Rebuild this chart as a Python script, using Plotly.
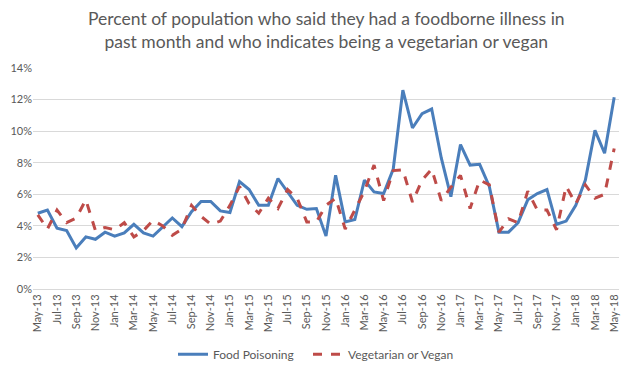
import plotly.graph_objects as go

months = [
    "May-13", "Jun-13", "Jul-13", "Aug-13", "Sep-13", "Oct-13", "Nov-13", "Dec-13",
    "Jan-14", "Feb-14", "Mar-14", "Apr-14", "May-14", "Jun-14", "Jul-14", "Aug-14",
    "Sep-14", "Oct-14", "Nov-14", "Dec-14",
    "Jan-15", "Feb-15", "Mar-15", "Apr-15", "May-15", "Jun-15", "Jul-15", "Aug-15",
    "Sep-15", "Oct-15", "Nov-15", "Dec-15",
    "Jan-16", "Feb-16", "Mar-16", "Apr-16", "May-16", "Jun-16", "Jul-16", "Aug-16",
    "Sep-16", "Oct-16", "Nov-16", "Dec-16",
    "Jan-17", "Feb-17", "Mar-17", "Apr-17", "May-17", "Jun-17", "Jul-17", "Aug-17",
    "Sep-17", "Oct-17", "Nov-17", "Dec-17",
    "Jan-18", "Feb-18", "Mar-18", "Apr-18", "May-18",
]

food_poisoning = [
    4.8, 5.0, 3.85, 3.7, 2.6, 3.3, 3.15, 3.6, 3.35, 3.55,
    4.1, 3.55, 3.35, 3.9, 4.5, 3.95, 4.9, 5.55, 5.55, 4.95,
    4.85, 6.8, 6.3, 5.3, 5.3, 7.0, 6.15, 5.3, 5.05, 5.1,
    3.35, 7.2, 4.25, 4.4, 6.9, 6.15, 6.05, 7.6, 12.6, 10.2,
    11.1, 11.4, 8.3, 5.85, 9.15, 7.85, 7.9, 6.5, 3.6, 3.6,
    4.2, 5.65, 6.05, 6.3, 4.1, 4.3, 5.3, 6.9, 10.05, 8.6,
    12.15,
]

vegetarian = [
    4.7, 3.8, 5.0, 4.2, 4.5, 5.65, 3.7, 3.9, 3.75, 4.2,
    3.3, 3.7, 4.35, 4.0, 3.4, 3.8, 5.3, 4.6, 4.1, 4.3,
    5.3, 6.5, 5.4, 4.8, 5.75, 5.1, 6.3, 5.75, 4.25, 4.25,
    5.3, 5.75, 3.8, 5.0, 6.2, 7.85, 5.6, 7.5, 7.55, 5.5,
    6.9, 7.6, 5.6, 6.45, 7.2, 5.1, 6.9, 6.6, 3.6, 4.45,
    4.2, 6.2, 5.0, 5.0, 3.75, 6.5, 5.4, 6.6, 5.75, 6.0,
    8.9,
]

y_ticks = [0, 2, 4, 6, 8, 10, 12, 14]
y_tick_labels = ["0%", "2%", "4%", "6%", "8%", "10%", "12%", "14%"]

series_names = ["Food Poisoning", "Vegetarian or Vegan"]

title_text = ("Percent of population who said they had a foodborne illness in<br>"
              "past month and who indicates being a vegetarian or vegan")

font_family = "Lato, 'Open Sans', sans-serif"
text_color = "#595959"

fig = go.Figure()
fig.add_trace(go.Scatter(
    x=months, y=food_poisoning, mode="lines", name=series_names[0],
    line=dict(color="#4A7EBB", width=3), legend="legend",
))
fig.add_trace(go.Scatter(
    x=months, y=vegetarian, mode="lines", name=series_names[1],
    line=dict(color="#BE4B48", width=3, dash="dash"), legend="legend2",
))

legend_common = dict(orientation="h", xanchor="left", xref="container",
                     yref="container", y=0.035, yanchor="middle",
                     bgcolor="rgba(0,0,0,0)",
                     font=dict(size=12, color=text_color))

fig.update_layout(
    width=632, height=367,
    margin=dict(l=33, r=13, t=68, b=78),
    paper_bgcolor="white", plot_bgcolor="white",
    font=dict(family=font_family, size=11, color=text_color),
    showlegend=True,
    legend=dict(x=173 / 632, **legend_common),
    legend2=dict(x=308 / 632, **legend_common),
    annotations=[dict(
        text=title_text, xref="paper", yref="paper", x=0.5, y=1.17,
        xanchor="center", yanchor="middle", showarrow=False, align="center",
        font=dict(family=font_family, size=17.5, color=text_color),
    )],
)

fig.update_xaxes(
    type="category", range=[-0.5, len(months) - 0.5], automargin=False,
    tickvals=months[::2], ticktext=months[::2], tickangle=-90,
    showgrid=False, showline=True, linecolor="#D9D9D9", linewidth=1,
    ticks="", tickfont=dict(size=11, color=text_color), zeroline=False,
)
fig.update_yaxes(
    range=[0, 14], tickvals=y_ticks, ticktext=y_tick_labels, automargin=False,
    showgrid=True, gridcolor="#D9D9D9", gridwidth=1, zeroline=False,
    showline=False, ticks="", tickfont=dict(size=11, color=text_color),
)

fig.write_html("out.html", config={"displayModeBar": False},
               post_script="document.body.style.margin='0';")
